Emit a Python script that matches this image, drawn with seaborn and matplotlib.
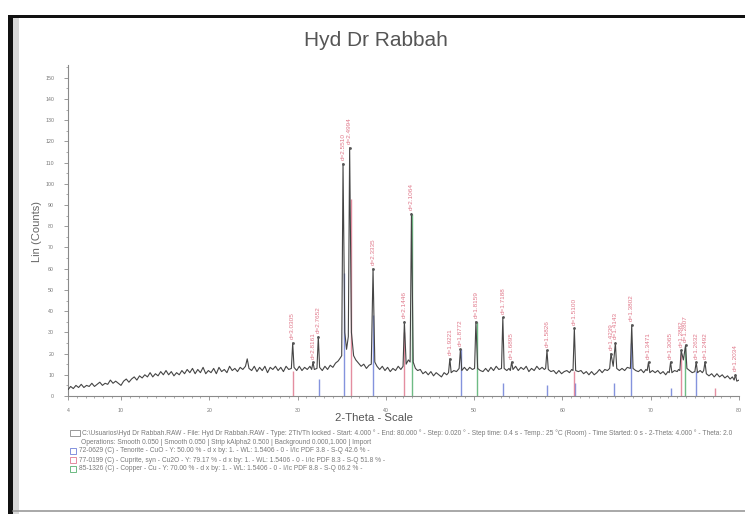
import numpy as np
import pandas as pd
import matplotlib
matplotlib.use("Agg")
import matplotlib.pyplot as plt
from matplotlib.patches import Rectangle
from matplotlib.lines import Line2D
from matplotlib.ticker import MultipleLocator, FixedLocator
import seaborn as sns

# ---------------- data ----------------
title = "Hyd Dr Rabbah"
x_label = "2-Theta - Scale"
y_label = "Lin (Counts)"

# measured XRD trace (2-theta, counts)
tth = [4.0, 4.3, 4.6, 4.9, 5.2, 5.5, 5.8, 6.1, 6.4, 6.7,
       7.0, 7.3, 7.6, 7.9, 8.2, 8.5, 8.8, 9.1, 9.4, 9.7,
       10.0, 10.3, 10.6, 10.9, 11.2, 11.5, 11.8, 12.1, 12.4, 12.7,
       13.0, 13.3, 13.6, 13.9, 14.2, 14.5, 14.8, 15.1, 15.4, 15.7,
       16.0, 16.3, 16.6, 16.9, 17.2, 17.5, 17.8, 18.1, 18.4, 18.7,
       19.0, 19.3, 19.6, 19.9, 20.2, 20.5, 20.8, 21.1, 21.4, 21.7,
       22.0, 22.3, 22.6, 22.9, 23.2, 23.5, 23.8, 24.1, 24.3, 24.5,
       24.8, 25.1, 25.4, 25.7, 26.0, 26.3, 26.6, 26.9, 27.2, 27.5,
       27.8, 28.1, 28.4, 28.7, 29.0, 29.3, 29.45, 29.6, 29.9, 30.2,
       30.5, 30.8, 31.1, 31.4, 31.6, 31.75, 31.9, 32.2, 32.35, 32.5,
       32.8, 33.1, 33.4, 33.7, 34.0, 34.3, 34.6, 34.85, 35.0, 35.15,
       35.35, 35.55, 35.75, 35.9, 36.1, 36.35, 36.6, 36.9, 37.2, 37.5,
       37.8, 38.1, 38.35, 38.55, 38.75, 39.0, 39.3, 39.6, 39.9, 40.2,
       40.5, 40.8, 41.1, 41.4, 41.7, 41.95, 42.1, 42.3, 42.55, 42.75,
       42.9, 43.1, 43.35, 43.6, 43.9, 44.2, 44.5, 44.8, 45.1, 45.4,
       45.7, 46.0, 46.3, 46.6, 46.9, 47.1, 47.25, 47.4, 47.7, 48.0,
       48.3, 48.45, 48.6, 48.9, 49.2, 49.5, 49.8, 50.05, 50.2, 50.4,
       50.7, 51.0, 51.3, 51.6, 51.9, 52.2, 52.5, 52.8, 53.1, 53.25,
       53.4, 53.7, 53.95, 54.1, 54.25, 54.4, 54.7, 55.0, 55.3, 55.6,
       55.9, 56.2, 56.5, 56.8, 57.1, 57.4, 57.7, 57.95, 58.1, 58.25,
       58.4, 58.7, 59.0, 59.3, 59.6, 59.9, 60.2, 60.5, 60.8, 61.05,
       61.2, 61.35, 61.5, 61.8, 62.1, 62.4, 62.7, 63.0, 63.3, 63.6,
       63.9, 64.2, 64.5, 64.8, 65.1, 65.35, 65.5, 65.75, 66.0, 66.15,
       66.45, 66.75, 67.05, 67.35, 67.7, 67.85, 68.0, 68.3, 68.6, 68.9,
       69.2, 69.45, 69.6, 69.75, 69.9, 70.2, 70.5, 70.8, 71.1, 71.4,
       71.7, 71.95, 72.1, 72.25, 72.4, 72.7, 73.0, 73.15, 73.3, 73.45,
       73.7, 73.95, 74.1, 74.4, 74.7, 75.0, 75.15, 75.3, 75.6, 75.85,
       76.0, 76.15, 76.3, 76.6, 76.9, 77.2, 77.5, 77.8, 78.1, 78.4,
       78.7, 79.0, 79.25, 79.45, 79.6, 79.75, 80.0]
cps = [3, 4.5, 3.5, 5, 4, 5.5, 4, 5, 4.5, 6,
       4.5, 5.5, 6.5, 5, 6, 5.5, 7.5, 6, 7, 6,
       5, 7, 8, 6.5, 8, 9, 7.5, 9.5, 8.5, 10,
       9, 11, 9, 10.5, 9.5, 11.5, 10, 12, 10, 11.5,
       9.5, 11, 10, 12, 10.5, 12.5, 11, 13, 10.5, 12.5,
       11, 13.5, 10.5, 12, 11, 13, 10.5, 13.5, 11.5, 12.5,
       11, 14, 12, 13, 11.5, 13.5, 12.5, 14, 17.5, 13,
       12, 14, 11.5, 13.5, 12, 14, 11, 13.5, 12.5, 14,
       12, 13.5, 11.5, 14, 12.5, 13, 25, 13.5, 12, 14,
       12, 13.5, 12.5, 14, 12.5, 16, 12.5, 13, 28, 13.5,
       12, 14, 12.5, 14.5, 13.5, 15.5, 16.5, 18, 19, 109.5,
       30, 22, 28, 117, 30, 19, 17, 15.5, 14, 15,
       13, 14.5, 15, 60, 16, 14, 12.5, 14, 12, 13.5,
       11.5, 13, 12, 14, 12.5, 14, 35, 15, 17, 16,
       86, 16, 13, 12, 12.5, 10.5, 11.5, 10, 11.5, 9.5,
       11, 10, 9, 11, 10, 11, 17.5, 11, 12, 11.5,
       13, 22, 12, 13.5, 12, 13.5, 12.5, 13, 35, 13,
       12, 11.5, 13, 11.5, 13.5, 12, 14, 12.5, 13, 37,
       13, 12, 13, 12, 16, 12.5, 14, 12, 13.5, 12.5,
       14, 11.5, 13, 12, 14, 12.5, 13.5, 12.5, 13, 21.5,
       12.5, 11.5, 12, 10.5, 12, 10.5, 11.5, 12, 11, 12.5,
       12, 32, 12, 11.5, 12, 10.5, 11.5, 10, 11.5, 10,
       11, 12.5, 11, 12.5, 12, 13, 20, 14, 25, 13,
       12, 13, 12, 13.5, 13, 33.5, 13, 12, 11.5, 12.5,
       11, 12.5, 12, 16, 11, 12, 11, 12, 10.5, 11.5,
       10, 11.5, 11, 16, 11, 12, 11.5, 12.5, 12, 21.5,
       17, 24, 13, 12, 11, 11.5, 16, 11, 12, 11,
       12, 16, 10.5, 9.5, 10.5, 9, 10.5, 9, 10, 8.5,
       9.5, 8, 9, 7.5, 10, 7, 7.5]

# labelled peaks (position, height, d-spacing label)
peak_pos = [29.45, 31.75, 32.35, 35.15, 35.9, 38.55, 42.1, 42.9, 47.25, 48.45,
            50.2, 53.25, 54.25, 58.25, 61.35, 65.5, 66.0, 67.85, 69.75, 72.25,
            73.45, 73.95, 75.15, 76.15, 79.6]
peak_h = [25, 16, 28, 109.5, 117, 60, 35, 86, 17.5, 22,
          35, 37, 16, 21.5, 32, 20, 25, 33.5, 16, 16,
          21.5, 24, 16, 16, 10]
peak_lbl = ["d=3.0305", "d=2.8161", "d=2.7652", "d=2.5510", "d=2.4994",
            "d=2.3335", "d=2.1446", "d=2.1064", "d=1.9221", "d=1.8772",
            "d=1.8159", "d=1.7188", "d=1.6895", "d=1.5826", "d=1.5100",
            "d=1.4239", "d=1.4143", "d=1.3802", "d=1.3471", "d=1.3065",
            "d=1.2882", "d=1.2807", "d=1.2632", "d=1.2492", "d=1.2034"]

# reference stick patterns
cuo_pos = [32.4, 35.3, 38.6, 48.5, 53.3, 58.2, 61.4, 65.8, 67.8, 72.3, 75.1]
cuo_h = [8, 58, 38, 22, 6, 5, 6, 6, 25, 4, 12]
cu2o_pos = [29.5, 36.1, 42.1, 61.3, 73.4, 77.3]
cu2o_h = [12, 93, 30, 12, 20, 4]
cu_pos = [43.0, 50.3, 73.9]
cu_h = [86, 35, 23]

x_ticks = [4, 10, 20, 30, 40, 50, 60, 70, 80]
y_ticks = [0, 10, 20, 30, 40, 50, 60, 70, 80, 90, 100, 110, 120, 130, 140, 150]

legend_lines = [
    "C:\\Usuarios\\Hyd Dr Rabbah.RAW - File: Hyd Dr Rabbah.RAW - Type: 2Th/Th locked - Start: 4.000 \u00b0 - End: 80.000 \u00b0 - Step: 0.020 \u00b0 - Step time: 0.4 s - Temp.: 25 \u00b0C (Room) - Time Started: 0 s - 2-Theta: 4.000 \u00b0 - Theta: 2.0",
    "Operations: Smooth 0.050 | Smooth 0.050 | Strip kAlpha2 0.500 | Background 0.000,1.000 | Import",
    "72-0629 (C) - Tenorite - CuO - Y: 50.00 % - d x by: 1. - WL: 1.5406 - 0 - I/Ic PDF 3.8 - S-Q 42.6 % -",
    "77-0199 (C) - Cuprite, syn - Cu2O - Y: 79.17 % - d x by: 1. - WL: 1.5406 - 0 - I/Ic PDF 8.3 - S-Q 51.8 % -",
    "85-1326 (C) - Copper - Cu - Y: 70.00 % - d x by: 1. - WL: 1.5406 - 0 - I/Ic PDF 8.8 - S-Q 06.2 % -",
]

# ---------------- styling ----------------
sns.set_theme(style="white")
plt.rcParams["font.family"] = ["Liberation Sans", "DejaVu Sans"]

W, H = 745, 514
fig = plt.figure(figsize=(W / 100, H / 100), dpi=100)
fig.patch.set_facecolor("white")

def fx(px):
    return px / W

def fy(py):
    return 1 - py / H

# page frame of the scan
fig.add_artist(Rectangle((fx(8), 0), fx(5), fy(15), transform=fig.transFigure,
                         facecolor="#111111", edgecolor="none"))
fig.add_artist(Rectangle((fx(13), 0), fx(6), fy(18), transform=fig.transFigure,
                         facecolor="#d8d8d8", edgecolor="none"))
fig.add_artist(Rectangle((fx(8), fy(18)), 1 - fx(8), 3 / H, transform=fig.transFigure,
                         facecolor="#111111", edgecolor="none"))
fig.add_artist(Line2D([fx(13), 1], [fy(511), fy(511)], transform=fig.transFigure,
                      color="#9a9a9a", lw=1.2))

ax = fig.add_axes([fx(68), fy(396), fx(739) - fx(68), fy(65) - fy(396)])
ax.set_facecolor("none")

TRACE = "#454545"
AXC = "#8a8a8a"

# stick patterns
ax.vlines(cuo_pos, 0, cuo_h, color="#6f80d8", lw=1.0, alpha=0.85, zorder=2)
ax.vlines(cu2o_pos, 0, cu2o_h, color="#e07a90", lw=1.0, alpha=0.85, zorder=2)
ax.vlines(cu_pos, 0, cu_h, color="#55b06e", lw=1.0, alpha=0.85, zorder=2)

df = pd.DataFrame({"tth": tth, "cps": cps})
sns.lineplot(data=df, x="tth", y="cps", ax=ax, color=TRACE, lw=0.8,
             estimator=None, sort=False, zorder=3)

# peak markers & labels
ax.scatter(peak_pos, peak_h, s=4, color="#555555", zorder=4, linewidths=0)
for p, h, t in zip(peak_pos, peak_h, peak_lbl):
    ax.annotate(t, xy=(p, h), xytext=(0, 2.5), textcoords="offset points",
                rotation=90, ha="center", va="bottom", fontsize=4.6,
                color="#e0788a", zorder=5)

ax.set_xlim(4, 80)
ax.set_ylim(0, 156)
ax.xaxis.set_major_locator(FixedLocator(x_ticks))
ax.xaxis.set_minor_locator(MultipleLocator(1))
ax.yaxis.set_major_locator(FixedLocator(y_ticks))
ax.yaxis.set_minor_locator(MultipleLocator(5))
ax.set_xticklabels([str(v) for v in x_ticks])
ax.set_yticklabels([str(v) for v in y_ticks])

for s in ["top", "right"]:
    ax.spines[s].set_visible(False)
for s in ["left", "bottom"]:
    ax.spines[s].set_color(AXC)
    ax.spines[s].set_linewidth(0.8)

ax.tick_params(axis="both", which="major", direction="out", length=3, width=0.6,
               color=AXC, labelsize=3.8, labelcolor="#777777", left=True, bottom=True)
ax.tick_params(axis="both", which="minor", direction="out", length=1.6, width=0.5,
               color=AXC, left=True, bottom=True)
ax.tick_params(axis="y", which="major", pad=7)
ax.tick_params(axis="x", which="major", pad=6)

ax.set_xlabel("")
ax.set_ylabel("")
fig.text(fx(37), fy(232), y_label, rotation=90, ha="center", va="center",
         fontsize=8, color="#666666")
fig.text(fx(374), fy(418), x_label, ha="center", va="center",
         fontsize=8.2, color="#555555")
fig.text(fx(376), fy(40), title, ha="center", va="center",
         fontsize=15, color="#555555")

# legend block
leg_y = [433, 442, 451, 460, 469]
leg_x = [82, 81, 79, 79, 79]
box_cols = ["#888888", None, "#6f80d8", "#e07a90", "#55b06e"]
for t, yy, xx, bc in zip(legend_lines, leg_y, leg_x, box_cols):
    fig.text(fx(xx), fy(yy), t, ha="left", va="center", fontsize=4.8, color="#7a7a7a")
    if bc is not None:
        bw = 10 if bc == "#888888" else 6
        fig.add_artist(Rectangle((fx(70), fy(yy + 3)), fx(bw), 6 / H,
                                 transform=fig.transFigure, facecolor="none",
                                 edgecolor=bc, lw=0.6))

fig.savefig("out.png", dpi=100, facecolor="white")
